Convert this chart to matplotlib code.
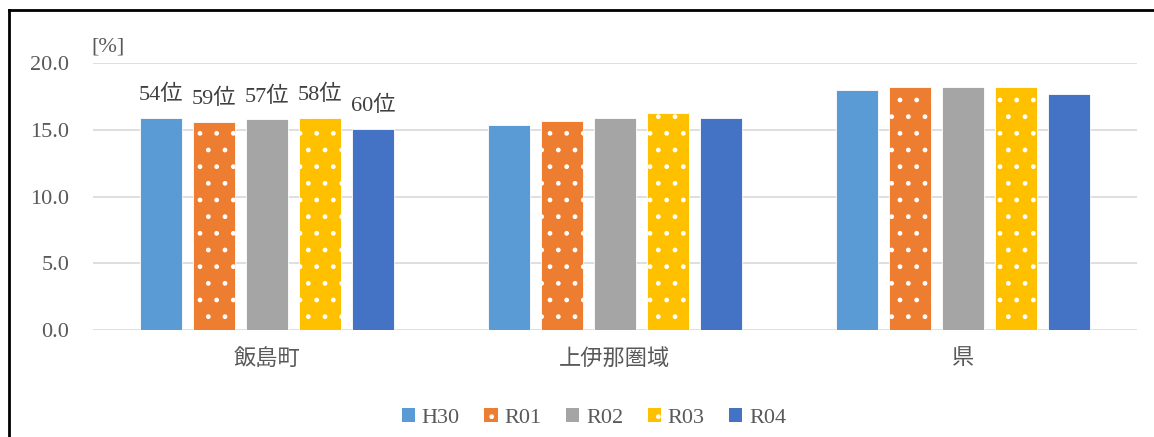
import matplotlib.pyplot as plt
from matplotlib.patches import Patch
from matplotlib.lines import Line2D
import numpy as np

# データ
areas = ['飯島町', '上伊那圏域', '県']
years = ['H30', 'R01', 'R02', 'R03', 'R04']
h30 = [15.9, 15.4, 18.0]
r01 = [15.6, 15.7, 18.2]
r02 = [15.8, 15.9, 18.2]
r03 = [15.9, 16.3, 18.2]
r04 = [15.1, 15.9, 17.7]
ranks = ['54位', '59位', '57位', '58位', '60位']  # 飯島町の順位

series = [h30, r01, r02, r03, r04]
colors = ['#5B9BD5', '#ED7D31', '#A5A5A5', '#FFC000', '#4472C4']
hatches = [None, '.', None, '.', None]

plt.rcParams['font.family'] = ['Liberation Serif', 'Noto Sans CJK JP']
plt.rcParams['hatch.linewidth'] = 1.0
txt = '#595959'

W, H = 1154, 437
fig = plt.figure(figsize=(W / 100, H / 100), dpi=100)
ax = fig.add_axes([93 / W, 1 - 330 / H, (1137 - 93) / W, (330 - 63.3) / H])

x = np.arange(len(areas))
step = 0.1525
width = 0.121
for i, (vals, c, h) in enumerate(zip(series, colors, hatches)):
    pos = x + (i - 2) * step
    ax.bar(pos, vals, width=width, color=c, hatch=h,
           edgecolor='white', linewidth=0.6, zorder=3, label=years[i])
    # 飯島町の順位ラベル
    ax.annotate(ranks[i], (pos[0], vals[0]), xytext=(0, 9),
                textcoords='offset points', ha='center', va='bottom',
                fontsize=16, color='#404040')

ax.set_xlim(-0.5, 2.5)
ax.set_ylim(0, 20)
ax.set_yticks([0, 5, 10, 15, 20])
ax.set_yticklabels(['0.0', '5.0', '10.0', '15.0', '20.0'])
ax.set_xticks(x)
ax.set_xticklabels(areas)
ax.tick_params(axis='y', length=0, pad=17, labelsize=16, labelcolor=txt)
ax.tick_params(axis='x', length=0, pad=14, labelsize=16, labelcolor=txt)
ax.grid(axis='y', color='#D9D9D9', linewidth=1.2, zorder=0)
for s in ax.spines.values():
    s.set_visible(False)

fig.text(108 / W, 1 - 47 / H, '[%]', ha='center', va='center',
         fontsize=16, color=txt)

# 凡例
handles = [Patch(facecolor=c, hatch=h, edgecolor='white', linewidth=0)
           for c, h in zip(colors, hatches)]
fig.legend(handles, years, loc='center', bbox_to_anchor=(594 / W, 1 - 418 / H),
           ncol=5, frameon=False, fontsize=16, labelcolor=txt,
           handlelength=0.6, handleheight=0.6, handletextpad=0.3,
           columnspacing=1.1)

# 外枠(左・上)
fig.add_artist(Line2D([9 / W, 9 / W], [0, 1 - 10 / H], color='black',
                      linewidth=2, transform=fig.transFigure))
fig.add_artist(Line2D([9 / W, 1], [1 - 10 / H, 1 - 10 / H], color='black',
                      linewidth=2, transform=fig.transFigure))

plt.savefig('out.png', dpi=100)
plt.close()
